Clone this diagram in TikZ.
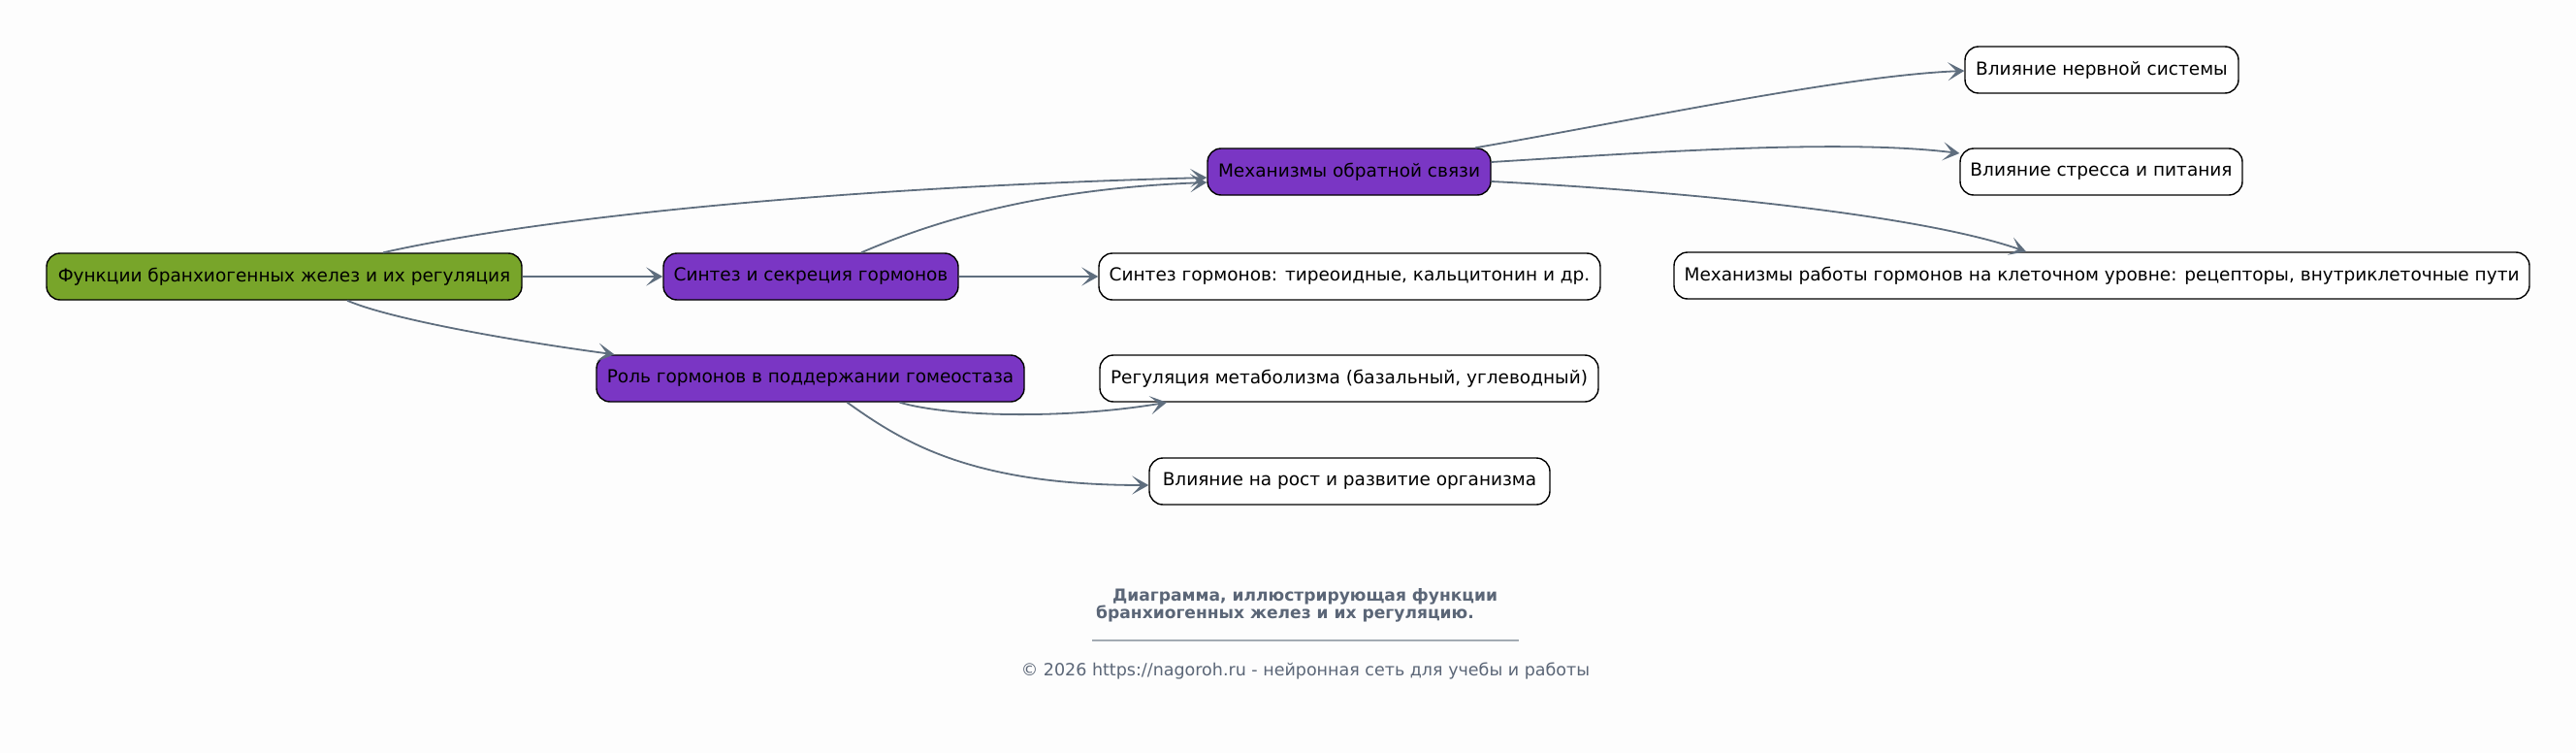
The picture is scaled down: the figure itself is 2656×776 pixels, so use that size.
\documentclass[tikz,border=0pt]{standalone}
\usepackage{fontspec}
\setmainfont{DejaVu Sans}
\usetikzlibrary{arrows.meta}
\definecolor{greenfill}{HTML}{78A52A}
\definecolor{purplefill}{HTML}{7A36C4}
\definecolor{edgec}{HTML}{5F6E7E}
\definecolor{footc}{HTML}{5B6677}
\definecolor{rulec}{HTML}{A3ABB3}
\definecolor{bgc}{HTML}{FDFDFD}
\begin{document}
\begin{tikzpicture}[x=1pt,y=-1pt,
  box/.style={draw=black, line width=1.4pt, rounded corners=14pt, minimum height=48pt, inner sep=0pt, font=\fontsize{18.5}{22}\selectfont, text=black},
  rootbox/.style={box, fill=greenfill},
  midbox/.style={box, fill=purplefill},
  leafbox/.style={box, fill=white},
  conn/.style={draw=edgec, line width=1.8pt, -{Stealth[length=17pt,width=19pt,inset=9pt]}},
  foot/.style={text=footc, inner sep=0pt},
]
\fill[bgc] (0,0) rectangle (2656,776);
\useasboundingbox (0,0) rectangle (2656,776);

\node[rootbox, minimum width=490pt] (root) at (293,285) {Функции бранхиогенных желез и их регуляция};
\node[midbox, minimum width=304pt] (syn) at (836,285) {Синтез и секреция гормонов};
\node[midbox, minimum width=441pt] (rol) at (835.5,390) {Роль гормонов в поддержании гомеостаза};
\node[midbox, minimum width=292pt] (mech) at (1391,177) {Механизмы обратной связи};
\node[leafbox, minimum width=517pt] (synh) at (1391.5,285) {Синтез гормонов: тиреоидные, кальцитонин и др.};
\node[leafbox, minimum width=514pt] (reg) at (1391,390) {Регуляция метаболизма (базальный, углеводный)};
\node[leafbox, minimum width=413pt] (grow) at (1391.5,496) {Влияние на рост и развитие организма\hspace{8pt}};
\node[leafbox, minimum width=282pt] (nerv) at (2167,72) {Влияние нервной системы};
\node[leafbox, minimum width=291pt] (stress) at (2166.5,177) {Влияние стресса и питания};
\node[leafbox, minimum width=882pt] (cell) at (2167,284) {Механизмы работы гормонов на клеточном уровне: рецепторы, внутриклеточные пути};

\draw[conn] ([xshift=102pt]root.north) .. controls (520,232) and (800,195) .. ([yshift=-6pt]mech.west);
\draw[conn] ([xshift=52pt]syn.north) .. controls (940,238) and (1050,195) .. ([yshift=-11pt]mech.west);
\draw[conn] (root.east) -- (syn.west);
\draw[conn] ([xshift=65pt]root.south) .. controls (400,328) and (520,350) .. ([xshift=-202pt]rol.north);
\draw[conn] (syn.east) -- (synh.west);
\draw[conn] ([xshift=92pt]rol.south) .. controls (980,430) and (1100,432) .. ([xshift=-188pt]reg.south);
\draw[conn] ([xshift=38pt]rol.south) .. controls (930,455) and (1000,500) .. ([yshift=-4pt]grow.west);
\draw[conn] ([xshift=130pt]mech.north) .. controls (1680,125) and (1900,78) .. ([yshift=-1pt]nerv.west);
\draw[conn] ([yshift=10pt]mech.east) .. controls (1700,157) and (1900,143) .. ([yshift=19pt]stress.west);
\draw[conn] ([yshift=-10pt]mech.east) .. controls (1700,195) and (1970,218) .. ([xshift=-78pt]cell.north);

\node[foot, anchor=west, font=\bfseries\fontsize{17.1}{19}\selectfont] (t1) at (1147,615) {Диаграмма, иллюстрирующая функции};
\node[foot, anchor=west, font=\bfseries\fontsize{17.1}{19}\selectfont] (t2) at (1130,633) {бранхиогенных желез и их регуляцию.};
\coordinate (r1) at (1126,660);
\coordinate (r2) at (1566,660);
\draw[rulec, line width=1.2pt] (r1) -- (r2);
\node[foot, font=\fontsize{17.5}{19}\selectfont] (copy) at (1346,692) {© 2026 https://nagoroh.ru - нейронная сеть для учебы и работы};
\end{tikzpicture}
\end{document}
